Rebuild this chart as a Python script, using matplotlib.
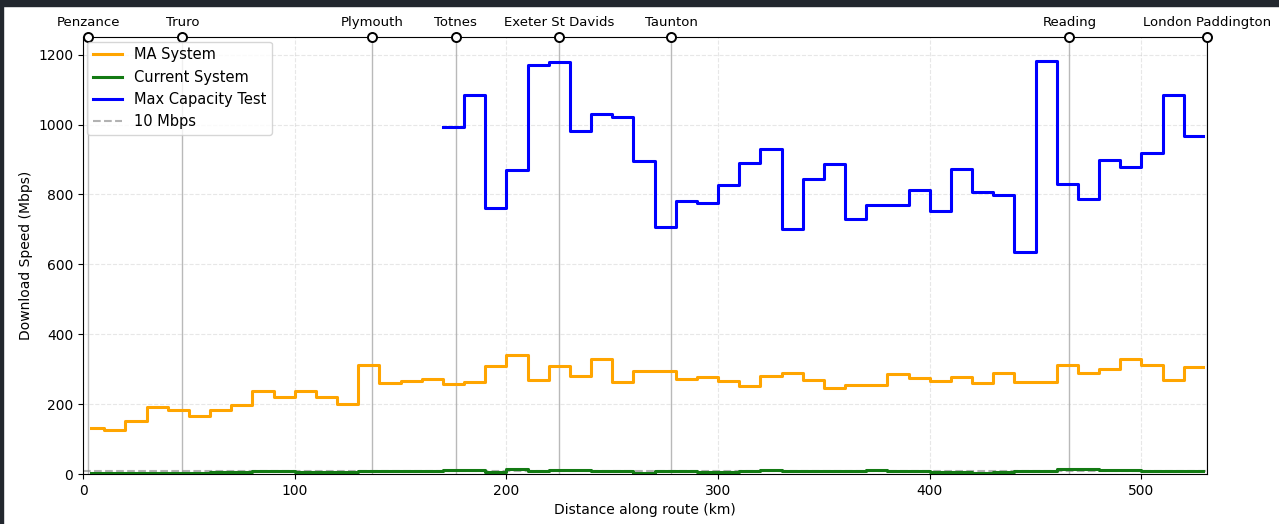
import numpy as np
import matplotlib
matplotlib.use("Agg")
import matplotlib.pyplot as plt
from matplotlib.patches import Rectangle

# 10 km bins along the route (bin start, km); last edge closes the final bin
BIN_STARTS = [4] + list(range(10, 530, 10))
ROUTE_END = 529

MA_SYSTEM = [131, 125, 151, 191, 184, 166, 183, 197, 237, 221,
             237, 221, 200, 312, 261, 267, 271, 258, 262, 309,
             341, 270, 309, 280, 330, 262, 295, 294, 272, 278,
             266, 252, 281, 290, 269, 247, 255, 256, 286, 275,
             265, 279, 260, 290, 262, 262, 313, 290, 301, 329,
             311, 270, 307]

CURRENT_SYSTEM = [3, 3, 3, 3, 3, 3, 5, 6, 8, 8,
                  7, 7, 7, 8, 9, 9, 8, 11, 11, 6,
                  14, 10, 12, 11, 9, 9, 2, 10, 8, 6,
                  7, 9, 12, 10, 9, 9, 10, 11, 9, 9,
                  6, 6, 3, 7, 8, 10, 13, 14, 12, 11,
                  10, 9, 9]

MAX_CAP_START = 170
MAX_CAPACITY = [994, 1085, 762, 870, 1170, 1180, 983, 1029, 1023, 896,
                707, 780, 776, 826, 889, 931, 701, 843, 888, 730,
                769, 771, 813, 752, 874, 806, 798, 636, 1183, 831,
                787, 898, 879, 919, 1085, 966]

THRESHOLD = 10

STATIONS = ["Penzance", "Truro", "Plymouth", "Totnes", "Exeter St Davids",
            "Taunton", "Reading", "London Paddington"]
STATION_KM = [2.4, 47, 136.5, 176, 225, 278, 466, 531]


def steps(starts, vals, end):
    x = list(starts) + [end]
    y = list(vals) + [vals[-1]]
    return x, y


fig = plt.figure(figsize=(12.79, 5.24), dpi=100)
ax = fig.add_axes([0.0649, 0.0954, 0.8788, 0.8336])

# station markers
for km in STATION_KM:
    ax.axvline(km, color="gray", lw=1.0, alpha=0.55, zorder=1)

x, y = steps(BIN_STARTS, MA_SYSTEM, ROUTE_END)
ax.step(x, y, where="post", color="orange", lw=2.2, label="MA System", zorder=3)
x, y = steps(BIN_STARTS, CURRENT_SYSTEM, ROUTE_END)
ax.step(x, y, where="post", color="#137a13", lw=2.2, label="Current System", zorder=3)
cap_starts = [MAX_CAP_START + 10 * i for i in range(len(MAX_CAPACITY))]
x, y = steps(cap_starts, MAX_CAPACITY, ROUTE_END)
ax.step(x, y, where="post", color="blue", lw=2.2, label="Max Capacity Test", zorder=3)
ax.axhline(THRESHOLD, color="gray", ls="--", lw=1.5, alpha=0.6, label="10 Mbps", zorder=2)

ax.set_xlim(0, 531)
ax.set_ylim(0, 1250)
ax.grid(True, ls="--", alpha=0.3)
ax.set_xlabel("Distance along route (km)", fontsize=10)
ax.set_ylabel("Download Speed (Mbps)", fontsize=10)
ax.tick_params(labelsize=10)
ax.legend(loc="upper left", fontsize=10.5, borderaxespad=0.3)

# station circles on the top spine with names above
ax.plot(STATION_KM, [1250] * len(STATION_KM), "o", mfc="white", mec="black",
        mew=1.4, ms=6.5, clip_on=False, zorder=5)
for name, km in zip(STATIONS, STATION_KM):
    ax.annotate(name, (km, 1250), xytext=(0, 6), textcoords="offset points",
                ha="center", va="bottom", fontsize=9.5)

# dark screenshot edge
fig.patches.append(Rectangle((0, 1 - 6 / 524), 1, 6 / 524, transform=fig.transFigure,
                             color="#22272e", zorder=10))
fig.patches.append(Rectangle((0, 0), 3 / 1279, 1, transform=fig.transFigure,
                             color="#22272e", zorder=10))

fig.savefig("out.png", dpi=100)
